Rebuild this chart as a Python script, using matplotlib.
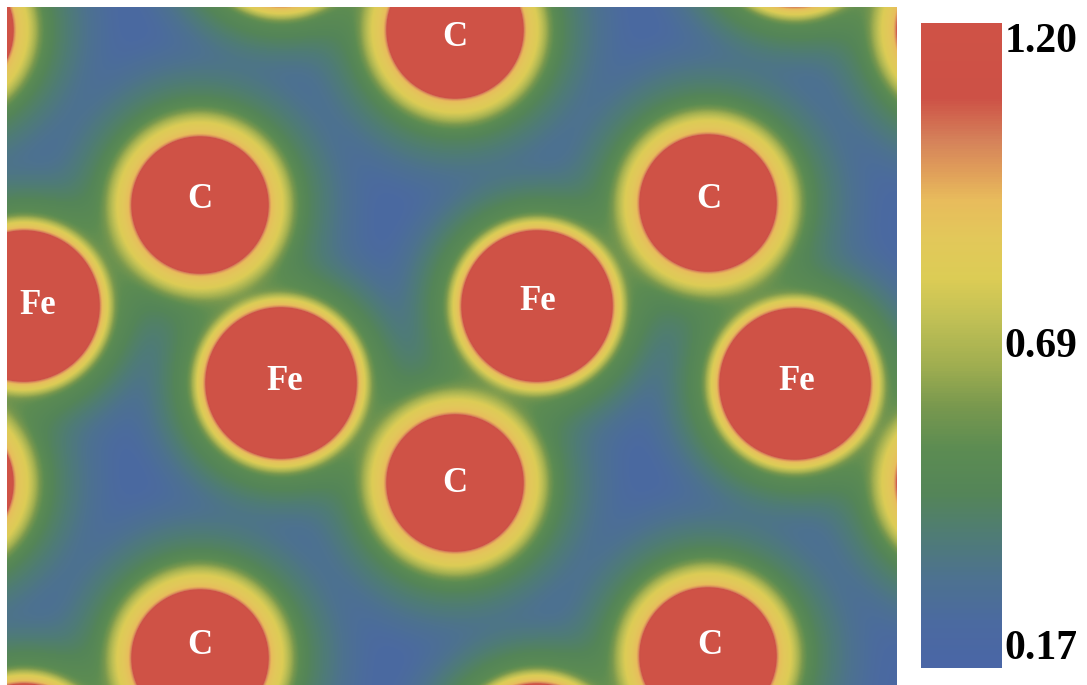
import numpy as np
import matplotlib
matplotlib.use("Agg")
import matplotlib.pyplot as plt
from matplotlib.colors import LinearSegmentedColormap, Normalize

# atom centres in picture pixels (periodic images outside the frame included)
atom_x = [455, 200, 708, 455, 200, 708, -55, 965, -55, 965,
          24, 537, 281, 795, 281, 795, 24, 537]
atom_y = [30, 205, 203, 483, 658, 656, 30, 30, 483, 483,
          306, 306, 383, 384, -70, -69, 759, 759]
atom_kind = ["C"] * 10 + ["Fe"] * 8

# label positions (only atoms inside the frame)
label_text = ["C", "C", "C", "C", "C", "C", "Fe", "Fe", "Fe", "Fe"]
label_x = [455, 200, 709, 455, 200, 710, 38, 538, 285, 797]
label_y = [37, 200, 200, 483, 645, 645, 305, 302, 382, 382]

vmin, vmax = 0.17, 1.20
cbar_ticks = [0.17, 0.69, 1.20]
cbar_labels = ["0.17", "0.69", "1.20"]

# per-species shape: red radius, yellow ring width, green tail length
core_r = {"C": 67, "Fe": 74}
ring_w = {"C": 26, "Fe": 15}
tail_w = {"C": 78, "Fe": 64}

cmap_pos = [0.0, 0.07, 0.14, 0.205, 0.27, 0.34, 0.405, 0.47, 0.54, 0.605,
            0.665, 0.725, 0.77, 0.818, 0.885, 1.0]
cmap_col = ["#4A66A6", "#4B6AA0", "#4D728F", "#4F7C75", "#548558", "#5C8C52",
            "#78984E", "#A0AE50", "#C0C055", "#DCCC55", "#E2C85A", "#E8BC5C",
            "#E09F5A", "#D5825A", "#CD5146", "#CF5246"]
elf_cmap = LinearSegmentedColormap.from_list("elf", list(zip(cmap_pos, cmap_col)))

# field on the pixel grid of the map
xs = np.arange(7, 897) + 0.5
ys = np.arange(7, 685) + 0.5
X, Y = np.meshgrid(xs, ys)

halo_sum = np.zeros_like(X)
core = np.zeros_like(X)
for ax_, ay_, k in zip(atom_x, atom_y, atom_kind):
    d = np.clip(np.hypot(X - ax_, Y - ay_) - core_r[k], -50, None)
    dp = np.clip(d, 0, None)
    h = (0.33 * np.exp(-(dp / ring_w[k]) ** 3)
         + 0.38 * np.exp(-(dp / tail_w[k]) ** 1.7))
    halo_sum += h ** 3
    core = np.maximum(core, 1.0 / (1.0 + np.exp(d / 1.8)))
field = 0.17 + halo_sum ** (1 / 3) + 0.6 * core
field = np.clip(field, vmin, vmax)

fig = plt.figure(figsize=(10.87, 6.85), dpi=100)
ax = fig.add_axes([7 / 1087, 0, 890 / 1087, 678 / 685])
im = ax.imshow(field, cmap=elf_cmap, norm=Normalize(vmin, vmax),
               extent=(7, 897, 685, 7), origin="upper", interpolation="bilinear")
ax.set_xlim(7, 897)
ax.set_ylim(685, 7)
ax.axis("off")

for t, lx, ly in zip(label_text, label_x, label_y):
    ax.text(lx, ly, t, color="white", fontsize=25, fontweight="bold",
            family="Liberation Serif", ha="center", va="center")

cax = fig.add_axes([921 / 1087, 17 / 685, 81 / 1087, 645 / 685])
cb = fig.colorbar(im, cax=cax, ticks=cbar_ticks)
cb.outline.set_visible(False)
cb.ax.tick_params(length=0, pad=2)
cb.ax.set_yticklabels(cbar_labels, fontsize=30, fontweight="bold",
                      family="Liberation Serif")
tl = cb.ax.get_yticklabels()
tl[0].set_va("bottom")
tl[-1].set_va("top")

fig.savefig("out.png", dpi=100)
